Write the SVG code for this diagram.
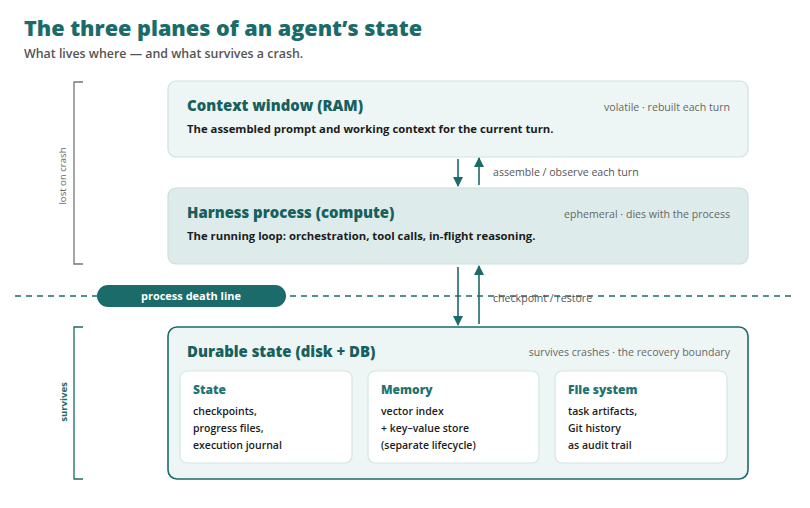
<svg xmlns="http://www.w3.org/2000/svg" width="810" height="508" viewBox="0 0 810 508">
<defs>
<style>
text{font-family:"Open Sans","Noto Sans",sans-serif;}
.title{font-size:21.6px;font-weight:800;fill:#1a6b69;}
.sub{font-size:12.4px;font-weight:600;fill:#555;}
.h{font-size:14.9px;font-weight:800;fill:#17605e;}
.meta{font-size:10.6px;fill:#666;text-anchor:end;}
.desc{font-size:11.3px;font-weight:700;fill:#1c1c1c;}
.sh{font-size:12px;font-weight:800;fill:#1f7370;}
.li{font-size:10.5px;font-weight:600;fill:#1c1c1c;}
.lbl{font-size:10.6px;fill:#555;}
.side{font-size:9.6px;}
.conn{stroke:#1a6b69;stroke-width:1.6;fill:none;}
</style>
<marker id="ah" viewBox="0 0 10 10" refX="9" refY="5" markerWidth="10" markerHeight="10" markerUnits="userSpaceOnUse" orient="auto"><path d="M0,0 L10,5 L0,10 z" fill="#1a6b69"/></marker>
</defs>
<rect width="810" height="508" fill="#ffffff"/>
<text class="title" x="24" y="36">The three planes of an agent’s state</text>
<text class="sub" x="24" y="58">What lives where — and what survives a crash.</text>

<g id="bracket-lost">
<path d="M83,82 H74 V264 H83" fill="none" stroke="#777" stroke-width="1.3"/>
<text class="side" fill="#666" transform="translate(66,176) rotate(-90)" text-anchor="middle">lost on crash</text>
</g>
<g id="bracket-survives">
<path d="M83,327 H74 V479 H83" fill="none" stroke="#1a6b69" stroke-width="1.3"/>
<text class="side" fill="#1a6b69" font-weight="700" transform="translate(67,402) rotate(-90)" text-anchor="middle">survives</text>
</g>

<g id="context">
<rect x="168" y="81" width="580" height="76" rx="8" fill="#eef6f5" stroke="#cde2df" stroke-width="1.2"/>
<text class="h" x="187" y="111">Context window (RAM)</text>
<text class="meta" x="730" y="111">volatile · rebuilt each turn</text>
<text class="desc" x="187" y="133">The assembled prompt and working context for the current turn.</text>
</g>

<g id="harness">
<rect x="168" y="188" width="580" height="76" rx="8" fill="#ddeceb" stroke="#c9dfdc" stroke-width="1.2"/>
<text class="h" x="187" y="218">Harness process (compute)</text>
<text class="meta" x="730" y="218">ephemeral · dies with the process</text>
<text class="desc" x="187" y="240">The running loop: orchestration, tool calls, in-flight reasoning.</text>
</g>

<g id="death-line">
<line x1="15" y1="296" x2="792" y2="296" stroke="#1a6b69" stroke-width="1.5" stroke-dasharray="6 5"/>
<rect x="97" y="285" width="189" height="22" rx="11" fill="#1a6b69"/>
<text x="191" y="300" font-size="11" font-weight="700" fill="#ffffff" text-anchor="middle">process death line</text>
</g>

<g id="durable">
<rect x="168" y="327" width="580" height="152" rx="9" fill="#eef6f5" stroke="#1a6b69" stroke-width="1.6"/>
<text class="h" x="187" y="357">Durable state (disk + DB)</text>
<text class="meta" x="730" y="356">survives crashes · the recovery boundary</text>
</g>

<g id="state">
<rect x="180" y="371" width="172" height="92" rx="7" fill="#ffffff" stroke="#d3e6e3" stroke-width="1.2"/>
<text class="sh" x="193" y="394">State</text>
<text class="li" x="193" y="415">checkpoints,</text>
<text class="li" x="193" y="432">progress files,</text>
<text class="li" x="193" y="449">execution journal</text>
</g>
<g id="memory">
<rect x="368" y="371" width="171" height="92" rx="7" fill="#ffffff" stroke="#d3e6e3" stroke-width="1.2"/>
<text class="sh" x="381" y="394">Memory</text>
<text class="li" x="381" y="415">vector index</text>
<text class="li" x="381" y="432">+ key–value store</text>
<text class="li" x="381" y="449">(separate lifecycle)</text>
</g>
<g id="filesystem">
<rect x="555" y="371" width="172" height="92" rx="7" fill="#ffffff" stroke="#d3e6e3" stroke-width="1.2"/>
<text class="sh" x="568" y="394">File system</text>
<text class="li" x="568" y="415">task artifacts,</text>
<text class="li" x="568" y="432">Git history</text>
<text class="li" x="568" y="449">as audit trail</text>
</g>

<g id="connectors">
<line class="conn" x1="458" y1="159" x2="458" y2="186" marker-end="url(#ah)"/>
<line class="conn" x1="479" y1="185" x2="479" y2="158" marker-end="url(#ah)"/>
<text class="lbl" x="493" y="176">assemble / observe each turn</text>
<line class="conn" x1="458" y1="267" x2="458" y2="325" marker-end="url(#ah)"/>
<line class="conn" x1="479" y1="324" x2="479" y2="266" marker-end="url(#ah)"/>
<text class="lbl" x="493" y="302">checkpoint / restore</text>
</g>
</svg>
